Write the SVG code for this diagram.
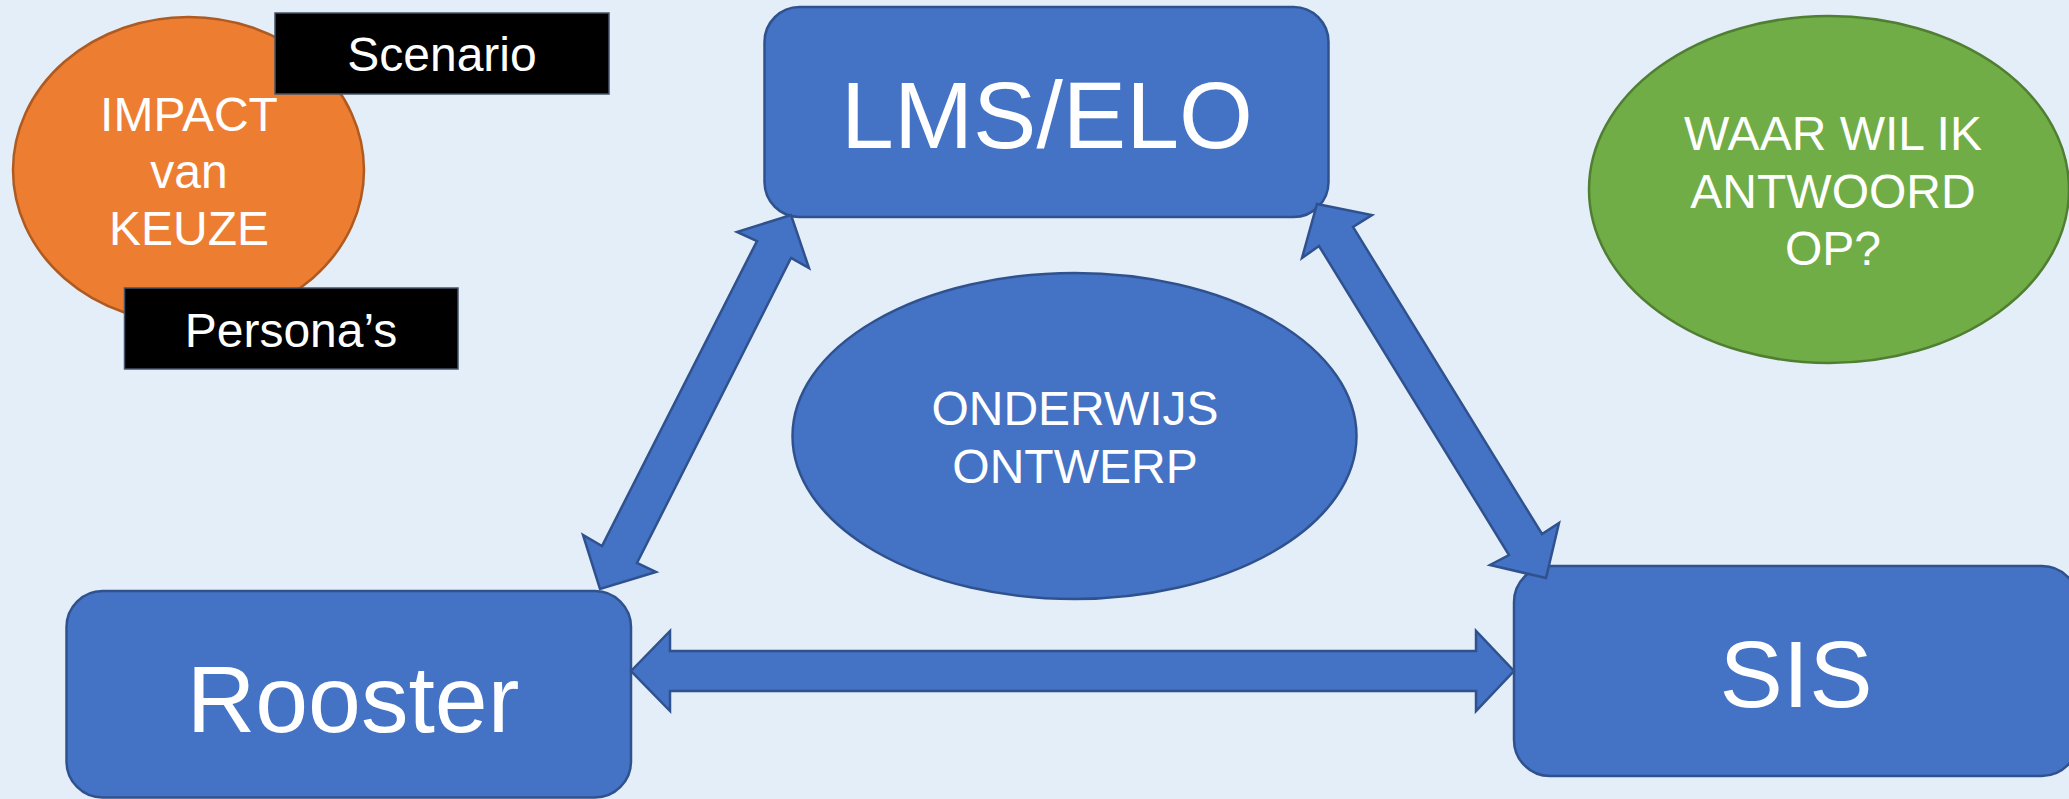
<svg xmlns="http://www.w3.org/2000/svg" width="2069" height="799" viewBox="0 0 2069 799">
<style>
.bg{fill:#E4EEF8}
.blue{fill:#4472C4;stroke:#2F528F;stroke-width:2.5}
.orange{fill:#ED7D31;stroke:#AE5A21;stroke-width:2.5}
.green{fill:#70AD47;stroke:#507E32;stroke-width:2.5}
.black{fill:#000000;stroke:#44546A;stroke-width:1.5}
.t{font-family:"Liberation Sans",Arial,sans-serif;fill:#FFFFFF;text-anchor:middle}
.s48{font-size:48px}
.s95{font-size:95px}
</style>
<rect class="bg" x="0" y="0" width="2069" height="799"/>

<g id="impact">
<ellipse class="orange" cx="188.5" cy="170" rx="175.5" ry="153"/>
<text class="t s48" x="189" y="131">IMPACT</text>
<text class="t s48" x="189" y="188">van</text>
<text class="t s48" x="189" y="245">KEUZE</text>
</g>

<g id="scenario">
<rect class="black" x="275" y="13" width="334" height="81"/>
<text class="t s48" x="442" y="71">Scenario</text>
</g>

<g id="personas">
<rect class="black" x="124.5" y="288" width="333.5" height="81"/>
<text class="t s48" x="291" y="347">Persona’s</text>
</g>

<g id="lms">
<rect class="blue" x="764.5" y="7" width="564" height="210" rx="35" ry="35"/>
<text class="t s95" x="1047" y="148">LMS/ELO</text>
</g>

<g id="vraag">
<ellipse class="green" cx="1829" cy="189.5" rx="240" ry="173.5"/>
<text class="t s48" x="1833" y="150">WAAR WIL IK</text>
<text class="t s48" x="1833" y="208">ANTWOORD</text>
<text class="t s48" x="1833" y="265">OP?</text>
</g>

<g id="onderwijs">
<ellipse class="blue" cx="1074.5" cy="436" rx="282" ry="163"/>
<text class="t s48" x="1075" y="425">ONDERWIJS</text>
<text class="t s48" x="1075" y="483">ONTWERP</text>
</g>

<g id="rooster">
<rect class="blue" x="66.5" y="591" width="564.5" height="206.5" rx="36" ry="36"/>
<text class="t s95" x="353" y="732">Rooster</text>
</g>

<g id="sis">
<rect class="blue" x="1514" y="566" width="564" height="210" rx="36" ry="36"/>
<text class="t s95" x="1796" y="707">SIS</text>
</g>

<g id="connectors">
<polygon class="blue" points="791,215 809,268 791,258 637,563 656,572 600,589 583,535 602,546 757,241 737,232"/>
<polygon class="blue" points="1317,204 1372,215 1353,227 1542,534 1559,523 1546,578 1490,565 1509,555 1319,246 1302,258"/>
<polygon class="blue" points="631,671 670,631 670,651 1476,651 1476,631 1514,671 1476,711 1476,691 670,691 670,711"/>
</g>
</svg>
